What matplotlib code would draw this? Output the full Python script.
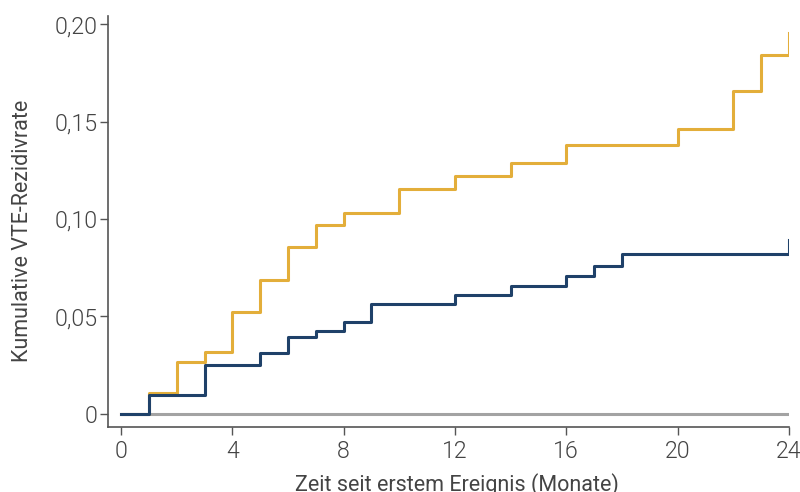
import matplotlib
matplotlib.use("Agg")
import matplotlib.pyplot as plt

plt.rcParams['font.family'] = ['Roboto', 'DejaVu Sans']
plt.rcParams['font.weight'] = 300

# Data
gold_t = [0, 1, 2, 3, 4, 5, 6, 7, 8, 10, 12, 14, 16, 20, 22, 23, 24]
gold_v = [0, 0.0106, 0.0267, 0.0316, 0.0522, 0.0689, 0.0856, 0.0968, 0.1031,
          0.1156, 0.1222, 0.1289, 0.1378, 0.1463, 0.1658, 0.1841, 0.1957]
blue_t = [0, 1, 3, 5, 6, 7, 8, 9, 12, 14, 16, 17, 18, 24]
blue_v = [0, 0.0094, 0.0248, 0.0313, 0.0393, 0.0427, 0.0472, 0.0562, 0.0610,
          0.0656, 0.0708, 0.0757, 0.0819, 0.0892]
ref_t = [0, 24]
ref_v = [0, 0]

xticks = [0, 4, 8, 12, 16, 20, 24]
yticks = [0, 0.05, 0.10, 0.15, 0.20]
ytick_labels = ['0', '0,05', '0,10', '0,15', '0,20']

fig = plt.figure(figsize=(8, 4.92), dpi=100)
ax = fig.add_axes([0.135, 0.132, 0.851, 0.836])

ax.plot(ref_t, ref_v, color='#a3a3a3', lw=2.2, zorder=1, solid_capstyle='butt')
ax.step(gold_t, gold_v, where='post', color='#e3ae3a', lw=2.2, zorder=2)
ax.step(blue_t, blue_v, where='post', color='#1f4169', lw=2.2, zorder=3)

ax.set_xlim(-0.47, 24)
ax.set_ylim(-0.0068, 0.2043)
ax.set_xticks(xticks)
ax.set_yticks(yticks)
ax.set_yticklabels(ytick_labels)

for s in ['top', 'right']:
    ax.spines[s].set_visible(False)
for s in ['left', 'bottom']:
    ax.spines[s].set_color('#555555')
    ax.spines[s].set_linewidth(1.2)

ax.tick_params(axis='both', colors='#555555', length=6, width=1.0,
               labelsize=16.7, labelcolor='#444444')
ax.tick_params(axis='y', pad=1.5)
ax.tick_params(axis='x', pad=3)

ax.set_xlabel('Zeit seit erstem Ereignis (Monate)', fontsize=15.5, color='#444444')
ax.set_ylabel('Kumulative VTE-Rezidivrate', fontsize=15.5, color='#444444')
ax.xaxis.set_label_coords(0.5125, -0.112)
ax.yaxis.set_label_coords(-0.110, 0.477)

fig.savefig('out.png', dpi=100)
